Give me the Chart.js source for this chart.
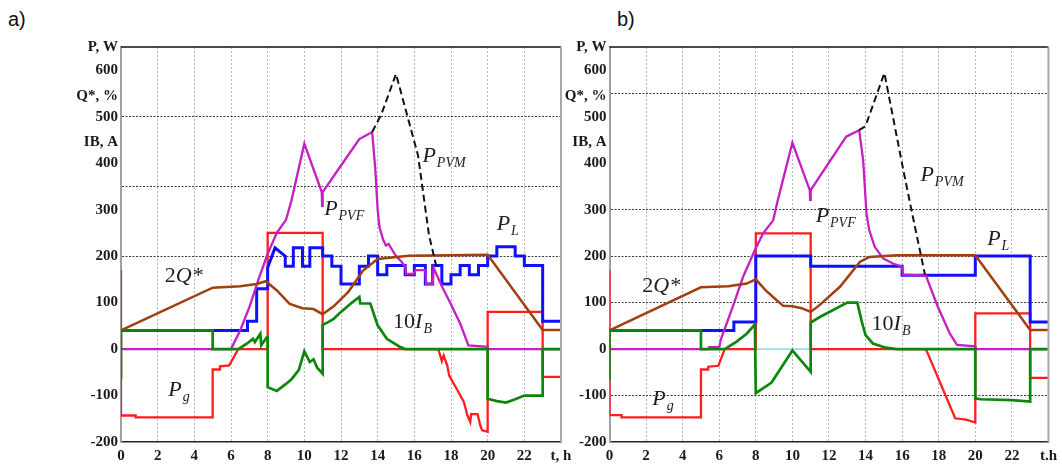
<!DOCTYPE html>
<html>
<head>
<meta charset="utf-8">
<script src="https://cdn.jsdelivr.net/npm/chart.js@4.4.0/dist/chart.umd.min.js"></script>
<style>
  body { margin: 0; background: #fff; width: 1062px; height: 466px; overflow: hidden; position: relative; }
  .box { position: absolute; top: 0; }
  .tag { position: absolute; top: 9px; font: 20px "Liberation Sans", Arial, sans-serif; color: #111; line-height: 1; }
</style>
</head>
<body>
<div class="tag" style="left:8px">a)</div>
<div class="tag" style="left:617px">b)</div>
<div class="box" style="left:0px"><canvas id="chartA" width="580" height="466"></canvas></div>
<div class="box" style="left:560px"><canvas id="chartB" width="502" height="466"></canvas></div>
<script>
// axis values
let yTicksA = [-200, -100, 0, 100, 200, 300, 350, 400, 445, 500, 545, 600, 650];
let yTicksB = [-200, -100, 0, 100, 200, 300, 400, 445, 500, 545, 550, 600, 650];
let yNames = { 445: 'IB, A', 545: 'Q*, %', 650: 'P, W' };
let yGridA = [200, 350, 500];
let yGridB = [-100, 100, 200, 300, 550];

// panel a) series, time in hours
let aPgT = [0, 0, 0.8, 0.8, 5, 5, 5.4, 5.4, 5.9, 6.4, 8, 8, 11, 11, 17.3, 17.4, 17.5, 17.6, 17.8, 17.9, 18.3, 18.7, 18.9, 19.05, 19.1, 19.45, 19.6, 19.7, 20, 20, 23, 23, 24];
let aPgV = [170, -143, -143, -147, -147, -44, -44, -37, -35, 0, 0, 250, 250, 0, 0, -12, -26, -14, -36, -57, -85, -114, -143, -157, -140, -140, -165, -175, -178, 80, 80, -60, -60];

let aPvfT = [0, 6, 6.5, 7, 7.5, 8, 8.5, 9, 9.3, 10, 10.95, 10.97, 11, 12, 13, 13.7, 13.87, 14, 14.1, 14.3, 14.45, 14.6, 14.72, 15, 15.3, 15.5, 15.55, 16, 16.05, 16.6, 16.65, 17, 17.05, 17.5, 17.95, 18.5, 18.95, 20, 20.05, 24];
let aPvfV = [0, 0, 40, 90, 150, 205, 250, 278, 320, 442, 338, 308, 338, 395, 452, 467, 388, 300, 262, 235, 223, 226, 218, 200, 188, 178, 162, 162, 170, 170, 140, 140, 175, 135, 100, 55, 8, 5, 0, 0];

let aPvmT = [13.7, 14.2, 15, 16.2, 16.8, 17.2];
let aPvmV = [467, 505, 592, 417, 245, 178];

let aLoadT = [0, 6.9, 6.9, 7.4, 7.4, 8, 8, 8.4, 8.96, 8.96, 9.4, 9.4, 9.9, 9.9, 10.3, 10.3, 11, 11, 11.5, 11.5, 12, 12, 13, 13, 13.5, 13.5, 14, 14, 14.5, 14.5, 15.5, 15.5, 16, 16, 16.6, 16.6, 17, 17, 17.5, 17.5, 18, 18, 18.5, 18.5, 19, 19, 19.5, 19.5, 20, 20, 20.5, 20.5, 21.5, 21.5, 22, 22, 23, 23, 24];
let aLoadV = [40, 40, 60, 60, 130, 130, 175, 218, 200, 178, 178, 218, 218, 178, 178, 218, 218, 200, 200, 178, 178, 140, 140, 178, 178, 200, 200, 160, 160, 180, 180, 160, 160, 180, 180, 140, 140, 180, 180, 140, 140, 160, 160, 180, 180, 160, 160, 180, 180, 200, 200, 220, 220, 200, 200, 180, 180, 60, 60];

let aQT = [0, 5, 6.5, 7.4, 7.9, 8.5, 9.2, 9.9, 10.5, 11, 11.6, 12.4, 13.2, 14, 15.7, 20, 23, 24];
let aQV = [40, 132, 135, 140, 146, 126, 97, 88, 86, 75, 92, 123, 169, 194, 201, 203, 41, 41];

let aIbT = [0, 0, 5, 5, 6.4, 6.84, 7.2, 7.3, 7.6, 7.65, 7.96, 8, 8, 8.5, 9, 9.3, 9.5, 9.7, 10, 10.3, 10.5, 10.7, 11, 11, 11.3, 11.6, 12, 12.3, 12.6, 13, 13.05, 13.6, 14, 14.5, 15.2, 15.5, 20, 20, 20.5, 21, 21.5, 22, 23, 23, 24];
let aIbV = [-64, 40, 40, 0, 0, 11, 22, 15, 33, 8, 26, 26, -82, -90, -75, -65, -55, -45, -5, -28, -22, -40, -53, 52, 58, 65, 80, 90, 100, 112, 98, 98, 51, 22, 5, 0, 0, -107, -112, -115, -108, -100, -100, 0, 0];

// panel b) series
let bPgT = [0, 0, 0.66, 0.66, 5, 5, 5.4, 5.4, 5.95, 6.3, 8, 8, 11, 11, 17.3, 18.9, 19.5, 20, 20, 23, 23, 24];
let bPgV = [170, -142, -142, -147, -147, -44, -44, -38, -36, 0, 0, 249, 249, 0, 0, -149, -152, -158, 77, 77, -62, -62];

let bPvfT = [0, 5.4, 5.45, 6, 6.1, 6.8, 7.3, 7.95, 8.4, 8.95, 9.2, 10, 10.95, 10.97, 11, 12.94, 13.65, 13.87, 14.05, 14.2, 14.5, 14.96, 15.5, 16, 16.05, 17.3, 17.95, 18.6, 19, 20, 20.05, 24];
let bPvfV = [0, 0, 4, 4, 22, 98, 155, 213, 249, 277, 320, 444, 342, 321, 342, 457, 471, 406, 292, 256, 220, 195, 184, 177, 160, 158, 91, 34, 9, 6, 0, 0];

let bPvmT = [13.65, 14, 15.03, 16.1, 16.7, 17.25];
let bPvmV = [471, 480, 594, 378, 263, 160];

let bLoadT = [0, 6.8, 6.8, 8, 8, 11, 11, 16, 16, 20, 20, 23, 23, 24];
let bLoadV = [40, 40, 58, 58, 200, 200, 178, 178, 159, 159, 200, 200, 58, 58];

let bQT = [0, 5, 6.5, 7.5, 8, 8.5, 9, 9.5, 10, 10.5, 11, 11.5, 12.6, 13.7, 14.2, 15.7, 20, 23, 24];
let bQV = [40, 133, 135, 141, 150, 128, 110, 93, 92, 88, 80, 95, 134, 188, 198, 202, 202, 41, 41];

let bIbT = [0, 0, 5, 5, 6.3, 6.95, 7.5, 7.95, 8, 8.86, 10, 11, 11, 11.5, 13, 13.55, 13.8, 14, 14.4, 15.1, 15.7, 20, 20, 20.3, 22, 23, 23, 24];
let bIbV = [-67, 40, 40, 0, 0, 16, 33, 53, -95, -72, -3, -49, 57, 69, 100, 100, 58, 30, 12, 3, 0, 0, -106, -108, -110, -113, 0, 0];

let bZeroT = [8, 11];
let bZeroV = [0, 0];

// curve names placed in data coordinates
let notesA = [
  { t: 16.44, v: 402, parts: [['P', 'i'], ['PVM', 's']] },
  { t: 11.08, v: 288, parts: [['P', 'i'], ['PVF', 's']] },
  { t: 20.49, v: 256, parts: [['P', 'i'], ['L', 's']] },
  { t: 2.39, v: 144, parts: [['2', 'n'], ['Q*', 'i']] },
  { t: 14.84, v: 45, parts: [['10', 'n'], ['I', 'i'], ['B', 's']] },
  { t: 2.58, v: -100, parts: [['P', 'i'], ['g', 's']] }
];
let notesB = [
  { t: 17.0, v: 361, parts: [['P', 'i'], ['PVM', 's']] },
  { t: 11.27, v: 273, parts: [['P', 'i'], ['PVF', 's']] },
  { t: 20.65, v: 224, parts: [['P', 'i'], ['L', 's']] },
  { t: 1.79, v: 123, parts: [['2', 'n'], ['Q*', 'i']] },
  { t: 14.33, v: 41, parts: [['10', 'n'], ['I', 'i'], ['B', 's']] },
  { t: 2.34, v: -120, parts: [['P', 'i'], ['g', 's']] }
];

function pts(ts, vs) {
  return ts.map((t, i) => ({ x: t, y: vs[i] }));
}

function line(data, color, width, dash) {
  return {
    data: data,
    borderColor: color,
    borderWidth: width,
    borderDash: dash || [],
    pointRadius: 0,
    tension: 0,
    fill: false
  };
}

// top and right frame lines
let framePlugin = {
  id: 'frame',
  afterDraw(chart) {
    let ctx = chart.ctx;
    let a = chart.chartArea;
    ctx.save();
    ctx.strokeStyle = '#111';
    ctx.lineWidth = 1.5;
    ctx.beginPath();
    ctx.moveTo(a.left, a.top);
    ctx.lineTo(a.right, a.top);
    ctx.stroke();
    ctx.strokeStyle = '#a8a8a8';
    ctx.lineWidth = 2;
    ctx.beginPath();
    ctx.moveTo(a.right, a.top);
    ctx.lineTo(a.right, a.bottom);
    ctx.stroke();
    ctx.restore();
  }
};

let notePlugin = {
  id: 'notes',
  afterDatasetsDraw(chart, args, opts) {
    let ctx = chart.ctx;
    let xs = chart.scales.x;
    let ys = chart.scales.y;
    ctx.save();
    ctx.fillStyle = '#1e1e1e';
    ctx.textBaseline = 'alphabetic';
    ctx.textAlign = 'left';
    opts.items.forEach(n => {
      let x = xs.getPixelForValue(n.t);
      let y = ys.getPixelForValue(n.v);
      n.parts.forEach(p => {
        let off = 0;
        if (p[1] === 's') {
          ctx.font = 'italic 14px "Liberation Serif"';
          off = 5;
        } else if (p[1] === 'i') {
          ctx.font = 'italic 22px "Liberation Serif"';
        } else {
          ctx.font = '22px "Liberation Serif"';
        }
        ctx.fillText(p[0], x, y + off);
        x += ctx.measureText(p[0]).width + (p[1] === 'i' ? 1 : 0);
      });
    });
    ctx.restore();
  }
};

function makeChart(id, sets, notes, yTicks, yGrid, axisWidth, padRight, endLabel) {
  let tickFont = { family: 'Liberation Serif', weight: 'bold', size: 15 };
  return new Chart(document.getElementById(id), {
    type: 'line',
    data: { datasets: sets },
    plugins: [framePlugin, notePlugin],
    options: {
      responsive: false,
      animation: false,
      layout: { padding: { left: 0, right: padRight, top: 47, bottom: 0 } },
      plugins: {
        legend: { display: false },
        tooltip: { enabled: false },
        notes: { items: notes }
      },
      scales: {
        x: {
          type: 'linear',
          min: 0,
          max: 24,
          afterFit: (s) => { s.height = 24; },
          ticks: {
            stepSize: 2,
            autoSkip: false,
            maxRotation: 0,
            padding: 5,
            color: '#1a1a1a',
            font: tickFont,
            callback: (v) => v === 24 ? endLabel : v
          },
          grid: {
            drawTicks: false,
            lineWidth: 1,
            color: (c) => (c.tick && c.tick.value > 0 && c.tick.value < 24) ? '#b4b4b4' : 'rgba(0,0,0,0)'
          },
          border: { color: '#222', width: 1.5, dash: [2, 2] }
        },
        y: {
          type: 'linear',
          min: -200,
          max: 650,
          afterFit: (s) => { s.width = axisWidth; },
          afterBuildTicks: (s) => { s.ticks = yTicks.map(v => ({ value: v })); },
          ticks: {
            autoSkip: false,
            padding: 3,
            color: '#1a1a1a',
            font: tickFont,
            callback: (v) => {
              if (yNames[v]) return yNames[v];
              if (v === 350 || v === 550) return '';
              return String(v);
            }
          },
          grid: {
            drawTicks: false,
            lineWidth: 1,
            color: (c) => (c.tick && yGrid.includes(c.tick.value)) ? '#3a3a3a' : 'rgba(0,0,0,0)'
          },
          border: { color: '#a0a0a0', width: 2, dash: [2, 1.5] }
        }
      }
    }
  });
}

let red = '#ff1e1e', blue = '#1010ff', green = '#0c860c', magenta = '#c41ec4', brown = '#a0400e';

let setsA = [
  line(pts(aPvmT, aPvmV), '#111', 2, [7, 4]),
  line(pts(aIbT, aIbV), green, 2.7),
  line(pts(aQT, aQV), brown, 2.5),
  line(pts(aPvfT, aPvfV), magenta, 2.3),
  line(pts(aLoadT, aLoadV), blue, 3),
  line(pts(aPgT, aPgV), red, 2.3)
];

let setsB = [
  line(pts(bPvmT, bPvmV), '#111', 2, [7, 4]),
  line(pts(bIbT, bIbV), green, 2.7),
  line(pts(bQT, bQV), brown, 2.5),
  line(pts(bPvfT, bPvfV), magenta, 2.3),
  line(pts(bLoadT, bLoadV), blue, 3),
  line(pts(bPgT, bPgV), red, 2.3),
  line(pts(bZeroT, bZeroV), '#40d0d0', 1)
];

makeChart('chartA', setsA, notesA, yTicksA, yGridA, 121, 19, 't, h');
makeChart('chartB', setsB, notesB, yTicksB, yGridB, 49.5, 13, 't.h');
</script>
</body>
</html>
